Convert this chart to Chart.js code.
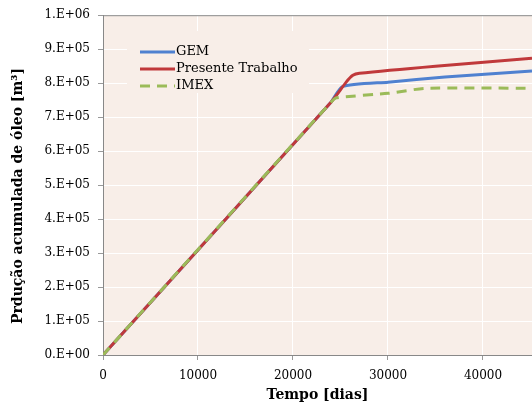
<!DOCTYPE html>
<html>
<head>
<meta charset="utf-8">
<script src="https://cdn.jsdelivr.net/npm/chart.js@4/dist/chart.umd.min.js"></script>
<style>
    html, body { margin: 0; padding: 0; background: #fff; overflow: hidden; }
    #wrap { width: 532px; height: 406px; }
</style>
</head>
<body>
<div id="wrap"><canvas id="oilChart" width="532" height="406"></canvas></div>
<script>
// Cumulative oil production, [tempo (dias), volume (m3)]
const gemPoints = [[0, 0], [24000, 744000], [25200, 790000], [30000, 803000], [36000, 818000], [45160, 836000]];
const presentePoints = [[0, 0], [24000, 744000], [25600, 803000], [26300, 823000], [27000, 829000], [35000, 850000], [45160, 873000]];
const imexPoints = [[0, 0], [24000, 744000], [24600, 757000], [30000, 770000], [34000, 785000], [45160, 785000]];

const seriesLabels = ['GEM', 'Presente Trabalho', 'IMEX'];
const seriesColors = ['#4F81D0', '#C0393B', '#9BBB59'];

const xTicks = [0, 10000, 20000, 30000, 40000];
const xMax = 45160;
const yMax = 1000000;
const yStep = 100000;

const plotBg = '#F8EEE8';
const serif = "'DejaVu Serif', 'Liberation Serif', serif";
const yTitle = 'Prdução acumulada de óleo [m³]';

const toXY = pts => pts.map(p => ({ x: p[0], y: p[1] }));

// Scientific tick labels like 9.E+05
const sciLabel = v => {
    if (v === 0) return '0.E+00';
    const exp = Math.floor(Math.log10(v) + 1e-9);
    const mant = Math.round(v / Math.pow(10, exp));
    return mant + '.E+' + String(exp).padStart(2, '0');
};

// Plot area fill behind the grid, top frame line and rotated y title
const plotBackground = {
    id: 'plotBackground',
    beforeDraw(chart) {
        const { ctx, chartArea: a } = chart;
        ctx.save();
        ctx.fillStyle = plotBg;
        ctx.fillRect(a.left, a.top, a.right - a.left, a.bottom - a.top);
        ctx.restore();
    },
    afterDraw(chart) {
        const { ctx, chartArea: a } = chart;
        ctx.save();
        ctx.strokeStyle = '#888';
        ctx.lineWidth = 1;
        ctx.beginPath();
        ctx.moveTo(a.left, a.top + 0.5);
        ctx.lineTo(a.right, a.top + 0.5);
        ctx.stroke();

        ctx.translate(18, 196);
        ctx.rotate(-Math.PI / 2);
        ctx.font = 'bold 14px ' + serif;
        ctx.fillStyle = '#000';
        ctx.textAlign = 'center';
        ctx.textBaseline = 'middle';
        ctx.fillText(yTitle, 0, 0);
        ctx.restore();
    }
};

// Legend box sitting inside the plot area
const insideLegend = {
    id: 'insideLegend',
    beforeDatasetsDraw(chart) {
        const { ctx } = chart;
        ctx.save();
        ctx.fillStyle = plotBg;
        ctx.fillRect(127, 31, 182, 62);
        ctx.restore();
    },
    afterDraw(chart) {
        const { ctx } = chart;
        ctx.save();
        ctx.font = '13px ' + serif;
        ctx.textBaseline = 'middle';
        ctx.lineWidth = 3;
        const rows = [52, 69, 86];
        rows.forEach((y, i) => {
            ctx.strokeStyle = seriesColors[i];
            ctx.setLineDash(i === 2 ? [10, 7] : []);
            ctx.beginPath();
            ctx.moveTo(140, y);
            ctx.lineTo(175, y);
            ctx.stroke();
            ctx.setLineDash([]);
            ctx.fillStyle = '#000';
            ctx.fillText(seriesLabels[i], 176, y);
        });
        ctx.restore();
    }
};

const mkDataset = (pts, i) => ({
    label: seriesLabels[i],
    data: toXY(pts),
    borderColor: seriesColors[i],
    backgroundColor: seriesColors[i],
    borderWidth: 3,
    borderDash: i === 2 ? [10, 7] : [],
    pointRadius: 0,
    tension: 0.2,
    fill: false
});

// First dataset is drawn on top: IMEX dashes over the red, red over blue
new Chart(document.getElementById('oilChart').getContext('2d'), {
    type: 'line',
    data: {
        datasets: [
            mkDataset(imexPoints, 2),
            mkDataset(presentePoints, 1),
            mkDataset(gemPoints, 0)
        ]
    },
    options: {
        responsive: false,
        animation: false,
        layout: { padding: { top: 14, right: 0, left: 0, bottom: 0 } },
        plugins: {
            legend: { display: false },
            tooltip: { enabled: false }
        },
        scales: {
            x: {
                type: 'linear',
                min: 0,
                max: xMax,
                afterFit: scale => { scale.height = 51; },
                afterBuildTicks: scale => {
                    scale.ticks = xTicks.map(v => ({ value: v }));
                },
                ticks: { color: '#000', font: { family: serif, size: 12 }, maxRotation: 0, autoSkip: false, padding: 9, callback: v => String(v) },
                grid: { color: '#fff', lineWidth: 1, tickColor: '#999', tickLength: 5 },
                border: { color: '#888', width: 1 },
                title: { display: true, text: 'Tempo [dias]', color: '#000', font: { family: serif, size: 14, weight: 'bold' }, padding: { top: 0, bottom: 2 } }
            },
            y: {
                min: 0,
                max: yMax,
                afterFit: scale => { scale.width = 103; },
                ticks: { stepSize: yStep, color: '#000', font: { family: serif, size: 12 }, callback: v => sciLabel(v), padding: 8 },
                grid: { color: '#fff', lineWidth: 1, tickColor: '#999', tickLength: 5 },
                border: { color: '#888', width: 1 },
                title: { display: false }
            }
        }
    },
    plugins: [plotBackground, insideLegend]
});
</script>
</body>
</html>
